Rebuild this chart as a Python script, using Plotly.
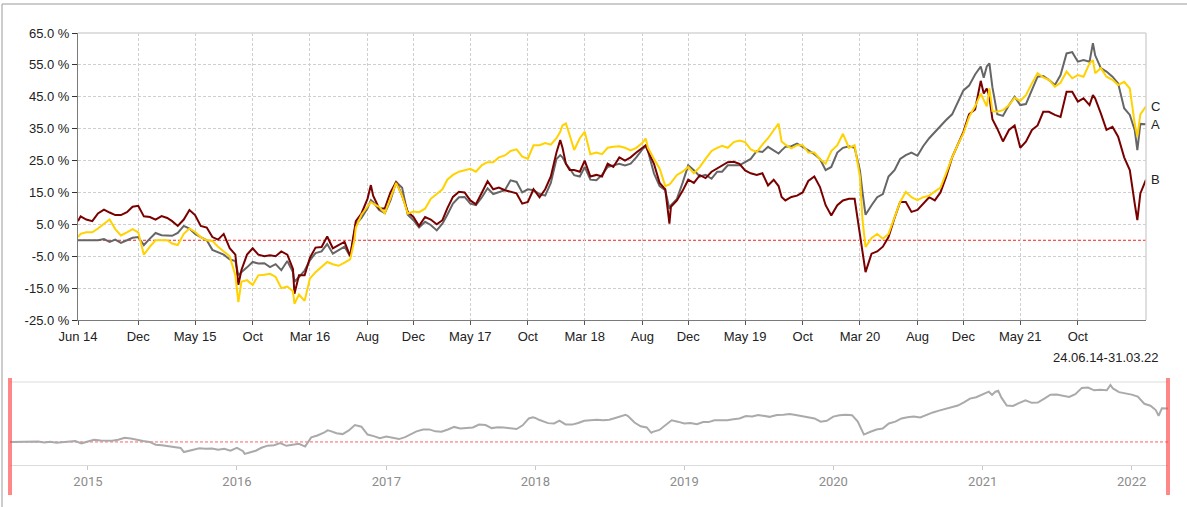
import plotly.graph_objects as go

# ---------------- data ----------------
dates = [
    # 2014
    "2014-06-24", "2014-07-01", "2014-07-16", "2014-08-01", "2014-08-16", "2014-09-01", "2014-09-16",
    "2014-10-01", "2014-10-16", "2014-11-01", "2014-11-16", "2014-12-01", "2014-12-16",
    # 2015
    "2015-01-01", "2015-01-16", "2015-02-01", "2015-02-16", "2015-03-01", "2015-03-16", "2015-04-01",
    "2015-04-16", "2015-05-01", "2015-05-16", "2015-06-01", "2015-06-16", "2015-07-01", "2015-07-16",
    "2015-08-01", "2015-08-16", "2015-08-24", "2015-09-01", "2015-09-16", "2015-10-01", "2015-10-16",
    "2015-11-01", "2015-11-16", "2015-12-01", "2015-12-16",
    # 2016
    "2016-01-01", "2016-01-16", "2016-01-20", "2016-02-01", "2016-02-16", "2016-03-01", "2016-03-16",
    "2016-04-01", "2016-04-16", "2016-05-01", "2016-05-16", "2016-06-01", "2016-06-16", "2016-06-27",
    "2016-07-01", "2016-07-16", "2016-08-01", "2016-08-10", "2016-08-16", "2016-09-01", "2016-09-16",
    "2016-10-01", "2016-10-16", "2016-11-01", "2016-11-16", "2016-12-01", "2016-12-16",
    # 2017
    "2017-01-01", "2017-01-16", "2017-02-01", "2017-02-16", "2017-03-01", "2017-03-16", "2017-04-01",
    "2017-04-16", "2017-05-01", "2017-05-16", "2017-06-01", "2017-06-16", "2017-07-01", "2017-07-16",
    "2017-08-01", "2017-08-16", "2017-09-01", "2017-09-16", "2017-10-01", "2017-10-16", "2017-11-01",
    "2017-11-16", "2017-12-01", "2017-12-16", "2017-12-26",
    # 2018
    "2018-01-01", "2018-01-10", "2018-01-20", "2018-02-01", "2018-02-16", "2018-03-01", "2018-03-16",
    "2018-04-01", "2018-04-16", "2018-05-01", "2018-05-16", "2018-06-01", "2018-06-16", "2018-07-01",
    "2018-07-16", "2018-08-01", "2018-08-10", "2018-08-16", "2018-09-01", "2018-09-16", "2018-10-01",
    "2018-10-12", "2018-10-16", "2018-11-01", "2018-11-16", "2018-12-01", "2018-12-16",
    # 2019
    "2019-01-01", "2019-01-16", "2019-02-01", "2019-02-16", "2019-03-01", "2019-03-16", "2019-04-01",
    "2019-04-16", "2019-05-01", "2019-05-16", "2019-06-01", "2019-06-16", "2019-07-01", "2019-07-16",
    "2019-07-29", "2019-08-06", "2019-08-16", "2019-09-01", "2019-09-16", "2019-10-01", "2019-10-16",
    "2019-11-01", "2019-11-16", "2019-12-01", "2019-12-16",
    # 2020
    "2020-01-01", "2020-01-16", "2020-02-01", "2020-02-16", "2020-03-01", "2020-03-08", "2020-03-16",
    "2020-04-01", "2020-04-16", "2020-05-01", "2020-05-16", "2020-06-01", "2020-06-16", "2020-07-01",
    "2020-07-16", "2020-08-01", "2020-08-16", "2020-09-01", "2020-09-16", "2020-10-01", "2020-10-16",
    "2020-11-01", "2020-11-16", "2020-12-01", "2020-12-16",
    # 2021
    "2021-01-01", "2021-01-16", "2021-01-24", "2021-02-01", "2021-02-08", "2021-02-16", "2021-03-01",
    "2021-03-16", "2021-04-01", "2021-04-16", "2021-05-01", "2021-05-16", "2021-06-01", "2021-06-16",
    "2021-07-01", "2021-07-16", "2021-08-01", "2021-08-16", "2021-09-01", "2021-09-16", "2021-10-01",
    "2021-10-16", "2021-11-01", "2021-11-10", "2021-11-16", "2021-12-01", "2021-12-16",
    # 2022
    "2022-01-01", "2022-01-16", "2022-02-01", "2022-02-16", "2022-03-01", "2022-03-08", "2022-03-16",
    "2022-03-31",
]

series_a = [
    0, 0, -0.2, 0, 0, 0.4, -0.5, 0.2, -0.8, 0, 0.8, 1, -1.5,
    0.5, 2.3, 1.6, 1.6, 1.4, 2.3, 4.5, 3.7, 2, 1, 0, -3, -3.7, -4.5, -6, -6.5, -11, -10, -8.5,
    -6.8, -7.3, -7.2, -8.4, -7.5, -9.4,
    -6.5, -10, -13, -11.5, -9.5, -6.3, -4, -3.5, -1.2, -4.2, -3, -2, -5, 2, 5, 7, 10, 12.6, 12,
    9.5, 8.5, 12.5, 18.3, 16.5, 8, 6.3, 4,
    5.8, 4.8, 3.1, 5.2, 8, 11.5, 13.5, 13.6, 11.5, 11, 13.5, 16.3, 14.5, 15, 15.7, 18.8, 18.3,
    15, 16, 15.7, 14.5, 14, 18, 25.5, 26.7,
    26, 24, 22.5, 20.4, 20, 23, 19, 18.8, 20.5, 23, 23.5, 24, 23.5, 24, 26, 28.5, 29.5, 28,
    21, 17, 15.7, 9.9, 11, 13, 18, 23.5, 22,
    20, 20.5, 19.3, 21.5, 21.5, 23.5, 23.5, 23.5, 24.5, 25.5, 28, 27.7, 29.3, 28.2, 27.2, 28.2,
    29.3, 29.5, 30.3, 29.3, 28.2, 27, 25.5, 22, 23,
    27.5, 29, 29.5, 29, 22, 15, 8, 11, 13.5, 14.5, 20, 22, 25.5, 26.7, 27.5, 26.5, 29.5, 32,
    34, 36, 37.7, 39.5, 43, 47, 48.5,
    52, 54.5, 51, 54.5, 55.5, 48, 39.5, 39, 42.4, 45, 42.4, 42.7, 47, 51.3, 51.5, 50.3, 48.7,
    51.8, 58.6, 59, 56, 56.5, 56, 61.8, 58, 54, 52.9,
    51.3, 49.2, 41.4, 39.3, 34.6, 28.3, 36.5, 36.4,
]

series_b = [
    6, 7.5, 6.5, 6, 8.4, 9.6, 8.7, 7.9, 7.9, 8.8, 10.5, 10.8, 7.5,
    7.3, 6.5, 7.6, 7.0, 6.0, 4.5, 6.5, 9.5, 7.9, 4.5, 4.0, 1.0, 0.2, 2.0, -2.5, -4.5, -14, -9.4,
    -4.5, -2.5, -4.5, -5, -4.7, -5, -3.5,
    -4.5, -9, -16.8, -11, -11, -5.5, -2.3, -2.1, 1.2, -2.5, -1.5, -0.5, -5, 3, 6, 8.4, 13, 17.3,
    14, 10, 10, 15, 18.3, 14, 8.9, 7.3, 4.5,
    7.3, 6.5, 5, 6.3, 10, 13.6, 15.2, 15, 12.5, 11.3, 15, 18.5, 16, 16.5, 15.7, 15.2, 14.7,
    11.5, 12, 16, 13.5, 16, 20, 27.5, 31.4,
    29, 24, 22, 22, 21.5, 25, 20, 20.5, 20, 24, 23, 26, 25, 26, 27.5, 29, 29.8, 28, 24, 18, 16,
    5.2, 10.5, 12.5, 15.5, 19, 18,
    20.4, 19.5, 21.5, 22.5, 23.5, 24.5, 24.6, 24, 21.9, 21, 20.5, 21, 17.2, 19, 17, 13.6, 12.5,
    13.6, 14, 15, 18.6, 20, 16.7, 11, 7.8,
    11, 12.5, 13, 13, 2, -4, -10, -4.2, -3.5, -2, 1, 7, 12, 12, 8.9, 9.5, 11.5, 13.5, 12.5, 15,
    19.9, 26, 30, 34, 39.5,
    41, 50, 46, 47.6, 45, 38, 35, 31, 34.6, 36, 29, 30.9, 34.6, 36, 40.3, 40.3, 39.3, 38.7,
    46.6, 46.6, 43.5, 44.5, 42.4, 45.5, 44.5, 39.8, 34.6,
    35.6, 32.5, 26, 22, 11.5, 6.3, 14.7, 19,
]

series_c = [
    1, 2, 2.5, 2.5, 3.7, 5, 6.5, 3.5, 1.5, 2.5, 3.5, 2.5, -4.5,
    -2, 0, 0, 0, -1, -1.5, 2, 3.7, 2.6, 1, 0, -0.2, -2, -3.5, -5, -11, -19.4, -13, -12.5, -14,
    -11, -10.8, -10.5, -11.5, -15,
    -14.5, -16, -19.9, -17, -19, -12, -10, -8.5, -6.8, -7.5, -8, -7, -6, 0, 4, 8, 10.5, 12,
    11.5, 10.5, 8.5, 13, 18, 14, 8.4, 9, 8.8,
    9.9, 13, 14.5, 16, 19, 20.5, 21.5, 22, 22.4, 21.5, 23.6, 24.5, 24.5, 26, 26.6, 28, 28.5,
    26.2, 25.6, 29.8, 29.8, 30.5, 30, 32, 34,
    36, 36.6, 33, 28.3, 32, 34, 27, 27.5, 27, 29, 29.3, 29.5, 29, 28.2, 29, 30.5, 31.9, 29,
    25.5, 22.5, 17, 17.5, 18, 20.5, 21.5, 23, 21,
    23, 25.5, 28, 29, 29.6, 29, 30.8, 31.3, 30.8, 28.5, 27.7, 30, 32, 34.5, 36.6, 31, 30, 28.8,
    29.8, 29.8, 27.5, 27.5, 25.5, 24, 28,
    29.8, 33.4, 29, 29.8, 20, 6.3, -2.1, 0.7, 2, 0.5, 2, 7.5, 12, 15.2, 13.5, 12.6, 13.5, 14,
    15.2, 16.5, 21, 26, 30, 33.5, 38.7,
    42, 46, 44, 42, 47.6, 40.5, 40.3, 40.8, 42.4, 44.7, 43.7, 45.5, 49.2, 52.4, 51.1, 50.3,
    48.2, 49.4, 52.9, 50.8, 51.8, 51.3, 55.5, 56.5, 52.4, 54, 51.3,
    50.3, 48.7, 49.7, 47.6, 36.6, 32.5, 39.5, 42,
]

series_names = ["A", "B", "C"]
series_colors = ["#666666", "#7a0000", "#ffd200"]

x_tick_vals = ["2014-06-24", "2014-12-01", "2015-05-01", "2015-10-01", "2016-03-01", "2016-08-01",
               "2016-12-01", "2017-05-01", "2017-10-01", "2018-03-01", "2018-08-01", "2018-12-01",
               "2019-05-01", "2019-10-01", "2020-03-01", "2020-08-01", "2020-12-01", "2021-05-01",
               "2021-10-01"]
x_tick_text = ["Jun 14", "Dec", "May 15", "Oct", "Mar 16", "Aug", "Dec", "May 17", "Oct", "Mar 18",
               "Aug", "Dec", "May 19", "Oct", "Mar 20", "Aug", "Dec", "May 21", "Oct"]
y_tick_vals = [-25, -15, -5, 5, 15, 25, 35, 45, 55, 65]
y_tick_text = ["-25.0 %", "-15.0 %", "-5.0 %", "5.0 %", "15.0 %", "25.0 %", "35.0 %", "45.0 %",
               "55.0 %", "65.0 %"]
nav_tick_vals = ["2015-01-01", "2016-01-01", "2017-01-01", "2018-01-01", "2019-01-01",
                 "2020-01-01", "2021-01-01", "2022-01-01"]
nav_tick_text = ["2015", "2016", "2017", "2018", "2019", "2020", "2021", "2022"]
period_label = "24.06.14-31.03.22"

# ---------------- figure ----------------
W, H = 1187, 507
FONT = "Liberation Sans, Arial, sans-serif"

def px_x(p):
    return p / W

def px_y(p):
    return 1 - p / H

fig = go.Figure()

for name, vals, col in zip(series_names, [series_a, series_b, series_c], series_colors):
    fig.add_trace(go.Scatter(x=dates, y=vals, mode="lines", name=name,
                             line=dict(color=col, width=2), xaxis="x", yaxis="y",
                             hoverinfo="skip"))

# navigator line
fig.add_trace(go.Scatter(x=dates, y=series_a, mode="lines", line=dict(color="#aaaaaa", width=2),
                         xaxis="x2", yaxis="y2", hoverinfo="skip"))

x_range = [dates[0], dates[-1]]

fig.update_layout(
    template="none",
    width=W, height=H, autosize=False,
    margin=dict(l=0, r=0, t=0, b=0, pad=0),
    paper_bgcolor="white", plot_bgcolor="white",
    showlegend=False,
    font=dict(family=FONT, size=13, color="#222222"),
    xaxis=dict(domain=[px_x(78), px_x(1146)], range=x_range, type="date",
               tickvals=x_tick_vals, ticktext=x_tick_text, tickangle=0, automargin=False,
               showgrid=True, gridcolor="#cfcfcf", griddash="3px,2px", gridwidth=1,
               showline=True, linecolor="#7a7a7a", linewidth=1,
               ticks="outside", ticklen=4, tickcolor="#555555",
               tickfont=dict(size=13, color="#222222"), zeroline=False, anchor="y"),
    yaxis=dict(domain=[px_y(320), px_y(33)], range=[-25, 65], automargin=False,
               tickvals=y_tick_vals, ticktext=y_tick_text,
               showgrid=True, gridcolor="#cfcfcf", griddash="3px,2px", gridwidth=1,
               showline=True, linecolor="#7a7a7a", linewidth=1,
               ticks="outside", ticklen=5, tickcolor="#333333",
               tickfont=dict(size=13, color="#222222"), zeroline=False, anchor="x"),
    xaxis2=dict(domain=[px_x(10), px_x(1168)], range=x_range, type="date", automargin=False,
                tickvals=nav_tick_vals, ticktext=nav_tick_text,
                showgrid=False, showline=True, linecolor="#dcdcdc", linewidth=1,
                ticks="outside", ticklen=4, tickcolor="#c8c8c8",
                tickfont=dict(family="Liberation Sans Narrow, Roboto, Liberation Sans, sans-serif",
                              size=13, color="#8c8c8c"),
                zeroline=False, anchor="y2"),
    yaxis2=dict(domain=[px_y(465), px_y(382)], range=[-25, 65], visible=False, automargin=False,
                showgrid=False, zeroline=False, anchor="x2"),
)

shapes = [
    # outer frame (left and top)
    dict(type="line", xref="paper", yref="paper", x0=px_x(2), x1=px_x(2), y0=0, y1=px_y(4),
         line=dict(color="#9a9a9a", width=1)),
    dict(type="line", xref="paper", yref="paper", x0=px_x(2), x1=1, y0=px_y(4), y1=px_y(4),
         line=dict(color="#9a9a9a", width=1)),
    # main plot border top/right
    dict(type="line", xref="x domain", yref="y domain", x0=0, x1=1, y0=1, y1=1,
         line=dict(color="#d4d4d4", width=1.5)),
    dict(type="line", xref="x domain", yref="y domain", x0=1, x1=1, y0=0, y1=1,
         line=dict(color="#d4d4d4", width=1.5)),
    # zero line main
    dict(type="line", xref="x domain", yref="y", x0=0, x1=1, y0=0, y1=0,
         line=dict(color="#ff2020", width=1, dash="3px,2px"), layer="below"),
    # navigator top border
    dict(type="line", xref="x2 domain", yref="y2 domain", x0=0, x1=1, y0=1, y1=1,
         line=dict(color="#dcdcdc", width=1)),
    # navigator zero line
    dict(type="line", xref="x2 domain", yref="y2", x0=0, x1=1, y0=0, y1=0,
         line=dict(color="#ff6060", width=1, dash="3px,2px"), layer="below"),
    # navigator handles
    dict(type="line", xref="paper", yref="paper", x0=px_x(10), x1=px_x(10),
         y0=px_y(495), y1=px_y(378), line=dict(color="rgba(255,70,70,0.65)", width=4)),
    dict(type="line", xref="paper", yref="paper", x0=px_x(1168), x1=px_x(1168),
         y0=px_y(495), y1=px_y(378), line=dict(color="rgba(255,70,70,0.65)", width=4)),
]
fig.update_layout(shapes=shapes)

annotations = []
for name, vals in zip(series_names, [series_a, series_b, series_c]):
    annotations.append(dict(x=dates[-1], y=vals[-1], xref="x", yref="y", text=name,
                            showarrow=False, xanchor="left", yanchor="middle", xshift=3,
                            font=dict(size=13, color="#222222")))
annotations.append(dict(x=px_x(1161), y=px_y(357), xref="paper", yref="paper", text=period_label,
                        showarrow=False, xanchor="right", yanchor="middle",
                        font=dict(size=13, color="#222222")))
fig.update_layout(annotations=annotations)

fig.write_html("out.html",
               config={"displayModeBar": False, "staticPlot": True},
               post_script="document.body.style.margin='0px';"
                           "document.body.style.overflow='hidden';")
